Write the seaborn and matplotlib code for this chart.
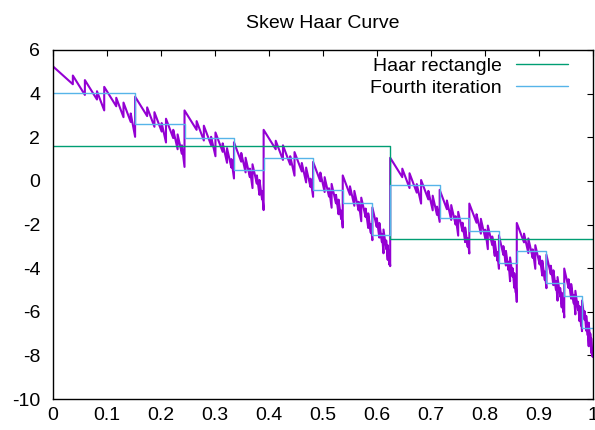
import matplotlib
matplotlib.use("Agg")
import matplotlib.pyplot as plt
import seaborn as sns

# ---------------- data ----------------
title = "Skew Haar Curve"

x_ticks = [0, 0.1, 0.2, 0.3, 0.4, 0.5, 0.6, 0.7, 0.8, 0.9, 1.0]
x_tick_labels = ["0", "0.1", "0.2", "0.3", "0.4", "0.5", "0.6", "0.7", "0.8", "0.9", "1"]
y_ticks = [-10, -8, -6, -4, -2, 0, 2, 4, 6]
y_tick_labels = ["-10", "-8", "-6", "-4", "-2", "0", "2", "4", "6"]

# Haar rectangle (step)
haar_edges = [0.0, 0.625, 1.0]
haar_values = [1.6, -2.667]

# Fourth iteration (step, 16 pieces)
iter4_edges = [0.0, 0.1526, 0.2441, 0.3357, 0.3906, 0.4822, 0.5371, 0.5920, 0.6250,
               0.7166, 0.7715, 0.8264, 0.8594, 0.9143, 0.9473, 0.9802, 1.0]
iter4_values = [4.05, 2.59, 1.96, 0.50, 1.07, -0.40, -1.02, -2.49,
                -0.21, -1.68, -2.30, -3.77, -3.20, -4.66, -5.29, -6.75]

# Skew Haar curve (unlabelled purple trace)
curve_x = [
    0.0000, 0.0373, 0.0373, 0.0596, 0.0596, 0.0820, 0.0820, 0.0954, 0.0954, 0.1177, 0.1177, 0.1311, 0.1311, 0.1445, 0.1445, 0.1526,
    0.1526, 0.1749, 0.1749, 0.1884, 0.1884, 0.2018, 0.2018, 0.2098, 0.2098, 0.2232, 0.2232, 0.2313, 0.2313, 0.2393, 0.2393, 0.2441,
    0.2441, 0.2665, 0.2665, 0.2799, 0.2799, 0.2933, 0.2933, 0.3014, 0.3014, 0.3148, 0.3148, 0.3228, 0.3228, 0.3309, 0.3309, 0.3357,
    0.3357, 0.3491, 0.3491, 0.3572, 0.3572, 0.3652, 0.3652, 0.3700, 0.3700, 0.3781, 0.3781, 0.3829, 0.3829, 0.3877, 0.3877, 0.3906,
    0.3906, 0.4130, 0.4130, 0.4264, 0.4264, 0.4398, 0.4398, 0.4478, 0.4478, 0.4613, 0.4613, 0.4693, 0.4693, 0.4774, 0.4774, 0.4822,
    0.4822, 0.4956, 0.4956, 0.5036, 0.5036, 0.5117, 0.5117, 0.5165, 0.5165, 0.5246, 0.5246, 0.5294, 0.5294, 0.5342, 0.5342, 0.5371,
    0.5371, 0.5505, 0.5505, 0.5586, 0.5586, 0.5666, 0.5666, 0.5714, 0.5714, 0.5795, 0.5795, 0.5843, 0.5843, 0.5891, 0.5891, 0.5920,
    0.5920, 0.6001, 0.6001, 0.6049, 0.6049, 0.6097, 0.6097, 0.6126, 0.6126, 0.6175, 0.6175, 0.6204, 0.6204, 0.6233, 0.6233, 0.6250,
    0.6250, 0.6474, 0.6474, 0.6608, 0.6608, 0.6742, 0.6742, 0.6822, 0.6822, 0.6956, 0.6956, 0.7037, 0.7037, 0.7117, 0.7117, 0.7166,
    0.7166, 0.7300, 0.7300, 0.7380, 0.7380, 0.7461, 0.7461, 0.7509, 0.7509, 0.7589, 0.7589, 0.7638, 0.7638, 0.7686, 0.7686, 0.7715,
    0.7715, 0.7849, 0.7849, 0.7929, 0.7929, 0.8010, 0.8010, 0.8058, 0.8058, 0.8139, 0.8139, 0.8187, 0.8187, 0.8235, 0.8235, 0.8264,
    0.8264, 0.8345, 0.8345, 0.8393, 0.8393, 0.8441, 0.8441, 0.8470, 0.8470, 0.8518, 0.8518, 0.8547, 0.8547, 0.8576, 0.8576, 0.8594,
    0.8594, 0.8728, 0.8728, 0.8808, 0.8808, 0.8889, 0.8889, 0.8937, 0.8937, 0.9018, 0.9018, 0.9066, 0.9066, 0.9114, 0.9114, 0.9143,
    0.9143, 0.9224, 0.9224, 0.9272, 0.9272, 0.9320, 0.9320, 0.9349, 0.9349, 0.9397, 0.9397, 0.9426, 0.9426, 0.9455, 0.9455, 0.9473,
    0.9473, 0.9553, 0.9553, 0.9601, 0.9601, 0.9650, 0.9650, 0.9679, 0.9679, 0.9727, 0.9727, 0.9756, 0.9756, 0.9785, 0.9785, 0.9802,
    0.9802, 0.9851, 0.9851, 0.9880, 0.9880, 0.9908, 0.9908, 0.9926, 0.9926, 0.9955, 0.9955, 0.9972, 0.9972, 0.9990, 0.9990, 1.0000,
]
curve_y = [
    5.26, 4.43, 4.83, 3.94, 4.62, 3.73, 4.11, 3.23, 4.31, 3.42, 3.81, 2.92, 3.59, 2.70, 3.09, 2.02,
    3.86, 2.97, 3.37, 2.48, 3.15, 2.26, 2.65, 1.76, 2.85, 1.96, 2.34, 1.45, 2.13, 1.24, 1.63, 0.64,
    3.23, 2.34, 2.74, 1.85, 2.53, 1.64, 2.02, 1.13, 2.22, 1.33, 1.72, 0.83, 1.50, 0.61, 1.00, 0.11,
    1.77, 0.88, 1.28, 0.39, 1.06, 0.17, 0.56, -0.33, 0.76, -0.13, 0.25, -0.64, 0.04, -0.85, -0.46, -1.34,
    2.34, 1.45, 1.84, 0.96, 1.63, 0.74, 1.13, 0.24, 1.32, 0.43, 0.82, -0.07, 0.61, -0.28, 0.10, -0.73,
    0.87, -0.02, 0.38, -0.51, 0.17, -0.72, -0.34, -1.23, -0.14, -1.03, -0.64, -1.53, -0.86, -1.75, -1.36, -2.14,
    0.25, -0.64, -0.25, -1.14, -0.46, -1.35, -0.96, -1.85, -0.77, -1.66, -1.27, -2.16, -1.49, -2.38, -1.99, -2.72,
    -1.22, -2.11, -1.71, -2.60, -1.93, -2.81, -2.43, -3.32, -2.23, -3.12, -2.73, -3.62, -2.95, -3.84, -3.45, -3.91,
    1.06, 0.17, 0.56, -0.33, 0.35, -0.54, -0.15, -1.04, 0.04, -0.85, -0.46, -1.35, -0.68, -1.56, -1.18, -1.88,
    -0.41, -1.30, -0.90, -1.79, -1.11, -2.00, -1.62, -2.51, -1.42, -2.31, -1.92, -2.81, -2.14, -3.03, -2.64, -3.33,
    -1.04, -1.92, -1.53, -2.42, -1.74, -2.63, -2.24, -3.13, -2.05, -2.94, -2.55, -3.44, -2.77, -3.66, -3.27, -4.03,
    -2.50, -3.39, -2.99, -3.88, -3.21, -4.09, -3.71, -4.60, -3.51, -4.40, -4.01, -4.90, -4.23, -5.12, -4.73, -5.55,
    -1.93, -2.82, -2.42, -3.31, -2.64, -3.53, -3.14, -4.03, -2.95, -3.83, -3.45, -4.34, -3.66, -4.55, -4.16, -4.92,
    -3.39, -4.28, -3.89, -4.78, -4.10, -4.99, -4.60, -5.49, -4.41, -5.30, -4.91, -5.80, -5.13, -6.01, -5.63, -6.26,
    -4.02, -4.91, -4.51, -5.40, -4.73, -5.62, -5.23, -6.12, -5.04, -5.92, -5.54, -6.43, -5.75, -6.64, -6.25, -6.89,
    -5.49, -6.37, -5.98, -6.87, -6.19, -7.08, -6.69, -7.58, -6.50, -7.39, -7.00, -7.89, -7.22, -8.02, -7.72, -8.07,
]

# ---------------- styling ----------------
sns.set_theme(style="white")
plt.rcParams['font.family'] = ['Liberation Sans', 'DejaVu Sans']
FS = 14

fig = plt.figure(figsize=(5.95, 4.30), dpi=100)
ax = fig.add_axes([52.7 / 595, 31 / 430, 540 / 595, 349 / 430])

sns.lineplot(x=curve_x, y=curve_y, estimator=None, sort=False,
             color="#9400d3", linewidth=1.5, ax=ax, label="_nolegend_")
sns.lineplot(x=haar_edges, y=haar_values + [haar_values[-1]], estimator=None, sort=False,
             drawstyle="steps-post", color="#009e73", linewidth=1.0, ax=ax,
             label="Haar rectangle")
sns.lineplot(x=iter4_edges, y=iter4_values + [iter4_values[-1]], estimator=None, sort=False,
             drawstyle="steps-post", color="#56b4e9", linewidth=1.0, ax=ax,
             label="Fourth iteration")

ax.set_xlim(0, 1)
ax.set_ylim(-10, 6)
ax.set_xticks(x_ticks)
ax.set_xticklabels(x_tick_labels)
ax.set_yticks(y_ticks)
ax.set_yticklabels(y_tick_labels)
ax.set_xlabel("")
ax.set_ylabel("")
ax.tick_params(direction="in", length=4, width=0.8, top=True, right=True,
               labelsize=FS, colors="black")
ax.tick_params(axis="x", pad=6)
ax.tick_params(axis="y", pad=9)
for sp in ax.spines.values():
    sp.set_color("black")
    sp.set_linewidth(1.0)
    sp.set_visible(True)

ax.set_title(title, fontsize=FS, pad=16, color="black")

leg = ax.legend(loc="upper right", bbox_to_anchor=(0.9548, 0.978), frameon=False,
                markerfirst=False, handlelength=2.7, handletextpad=0.74,
                borderpad=0, borderaxespad=0, labelspacing=0.2, fontsize=FS)
for t in leg.get_texts():
    t.set_color("black")

fig.savefig("out.png", dpi=100)
